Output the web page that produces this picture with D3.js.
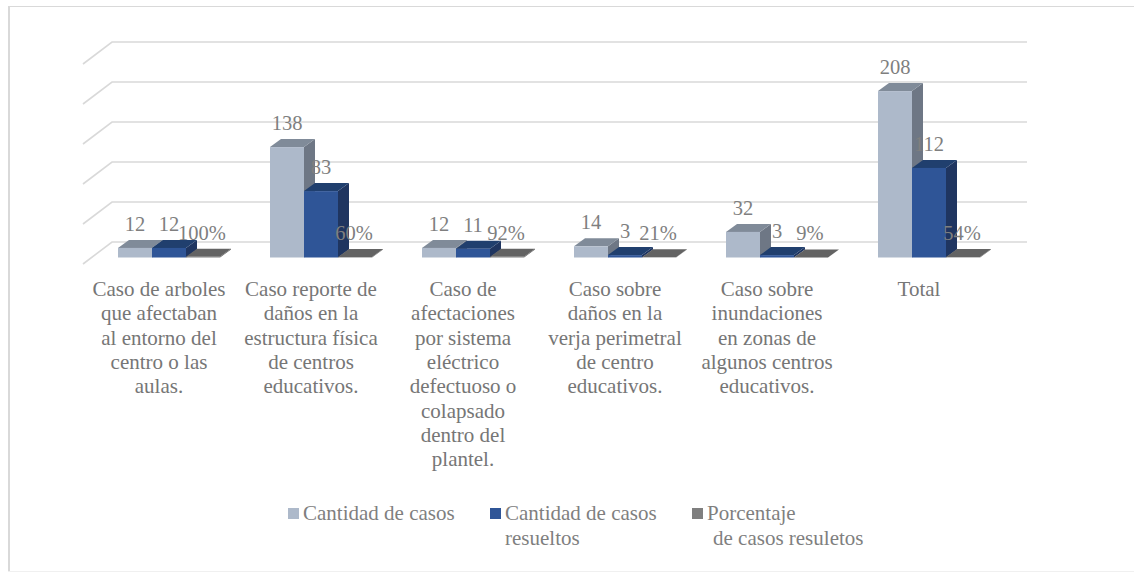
<!DOCTYPE html>
<html><head><meta charset="utf-8">
<script src="https://cdn.jsdelivr.net/npm/d3@7/dist/d3.min.js"></script>
<style>html,body{margin:0;padding:0;background:#fff}svg{display:block}text{font-family:"Liberation Serif",serif}</style>
</head><body><svg id="c" width="1134" height="572"></svg>
<script>
const categoryLines = [
 ["Caso de arboles","que afectaban","al entorno del","centro o las","aulas."],
 ["Caso reporte de","daños en la","estructura física","de centros","educativos."],
 ["Caso de","afectaciones","por sistema","eléctrico","defectuoso o","colapsado","dentro del","plantel."],
 ["Caso sobre","daños en la","verja perimetral","de centro","educativos."],
 ["Caso sobre","inundaciones","en zonas de","algunos centros","educativos."],
 ["Total"]
];
const casos = [12,138,12,14,32,208];
const resueltos = [12,83,11,3,3,112];
const porcentaje = [1,0.6,0.92,0.21,0.09,0.54];
const porcentajeLabels = ["100%","60%","92%","21%","9%","54%"];
const frontColors = ["#adb9ca","#2f5597","#7f7f7f"];
const topColors = ["#808b99","#203f6e","#636363"];
const sideColors = ["#6e7785","#1f3560","#555555"];
const legendLines = [["Cantidad de casos"],["Cantidad de casos","resueltos"],["Porcentaje","de casos resuletos"]];

const svg = d3.select("#c");
const textColor = "#7f7f7f";
// chart frame: top and left strong, bottom faint, no right edge
svg.append("line").attr("x1",8).attr("x2",1134).attr("y1",6.5).attr("y2",6.5).attr("stroke","#d9d9d9");
svg.append("line").attr("x1",9).attr("x2",9).attr("y1",6).attr("y2",571).attr("stroke","#d9d9d9").attr("stroke-width",2);
svg.append("line").attr("x1",8).attr("x2",1134).attr("y1",571.5).attr("y2",571.5).attr("stroke","#f0f0f0");

const x0 = d3.scaleBand().domain(d3.range(categoryLines.length)).range([83,995]);
const x1 = d3.scaleBand().domain(d3.range(3)).range([35,137]);
const y = d3.scaleLinear().domain([0,250]).range([257.5,57.5]);
const depthX = 11, depthY = 8, backX = 29, backY = 22, gridShift = 15.5;

const grid = svg.append("g").attr("fill","none").attr("stroke","#d9d9d9").attr("stroke-width",1.6);
y.ticks(5).forEach(v=>{
  const gy = y(v)-gridShift;
  const p = d3.path();
  p.moveTo(x0.range()[0], gy+backY);
  p.lineTo(x0.range()[0]+backX, gy);
  p.lineTo(1027, gy);
  grid.append("path").attr("d",p.toString());
});

const series = [casos,resueltos,porcentaje];
const labels = [casos.map(String),resueltos.map(String),porcentajeLabels];
categoryLines.forEach((_,i)=>{
  series.forEach((vals,s)=>{
    const left = x0(i)+x1(s), w = x1.bandwidth(), top = y(vals[i]), base = y(0);
    const g = svg.append("g");
    const side = d3.path(); side.moveTo(left+w,top); side.lineTo(left+w+depthX,top-depthY);
    side.lineTo(left+w+depthX,base-depthY); side.lineTo(left+w,base); side.closePath();
    g.append("path").attr("d",side.toString()).attr("fill",sideColors[s]);
    const t = d3.path(); t.moveTo(left,top); t.lineTo(left+depthX,top-depthY);
    t.lineTo(left+w+depthX,top-depthY); t.lineTo(left+w,top); t.closePath();
    g.append("path").attr("d",t.toString()).attr("fill",topColors[s]);
    g.append("rect").attr("x",left).attr("y",top).attr("width",w).attr("height",base-top).attr("fill",frontColors[s]);
  });
});
categoryLines.forEach((_,i)=>{
  series.forEach((vals,s)=>{
    svg.append("text").attr("x",x0(i)+x1(s)+x1.bandwidth()/2-(s==2?1:0)).attr("y",y(vals[i])-17)
      .attr("text-anchor","middle").attr("font-size",20.5).attr("fill",textColor).text(labels[s][i]);
  });
});
categoryLines.forEach((lines,i)=>{
  const t = svg.append("text").attr("text-anchor","middle").attr("font-size",21).attr("fill","#767676");
  lines.forEach((l,k)=>t.append("tspan").attr("x",x0(i)+x0.bandwidth()/2).attr("y",296+k*24.3).text(l));
});
const lx = d3.scaleOrdinal().domain([0,1,2]).range([288,490,692]);
const indent = [0,0,6];
legendLines.forEach((lines,s)=>{
  svg.append("rect").attr("x",lx(s)).attr("y",508).attr("width",11).attr("height",11).attr("fill",frontColors[s]);
  lines.forEach((l,k)=>svg.append("text").attr("x",lx(s)+15+(k?indent[s]:0)).attr("y",520+k*25)
     .attr("font-size",21).attr("fill",textColor).text(l));
});
</script></body></html>
